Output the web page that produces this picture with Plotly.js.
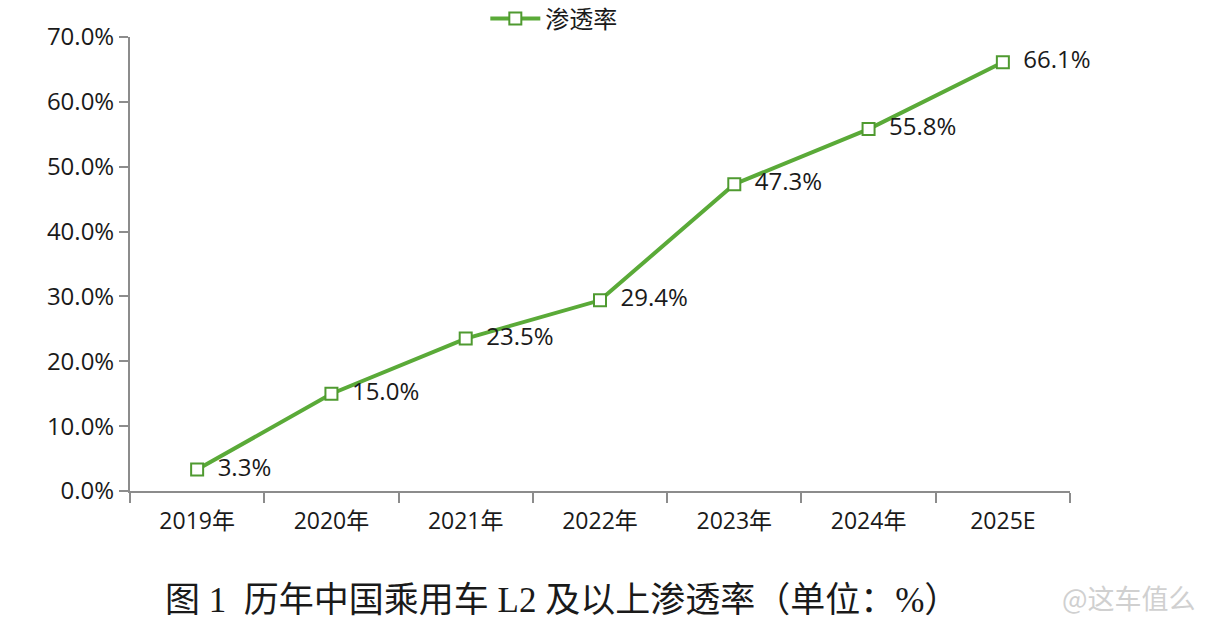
<!DOCTYPE html>
<html>
<head>
<meta charset="utf-8">
<script src="https://cdn.plot.ly/plotly-3.0.1.min.js"></script>
<style>html,body{margin:0;padding:0;background:#fff;}#chart{width:1208px;height:624px;}</style>
</head>
<body>
<div id="chart"></div>
<script>
const categories = ["2019年", "2020年", "2021年", "2022年", "2023年", "2024年", "2025E"];
const penetration = [3.3, 15.0, 23.5, 29.4, 47.3, 55.8, 66.1];
const seriesName = "渗透率";
const yTickValues = [0, 10, 20, 30, 40, 50, 60, 70];
const yTickLabels = ["0.0%", "10.0%", "20.0%", "30.0%", "40.0%", "50.0%", "60.0%", "70.0%"];
const caption = "图 1  历年中国乘用车 L2 及以上渗透率（单位：%）";
const watermark = "@这车值么";

const green = "#5aaa38";
const sans = "Open Sans, Noto Sans CJK SC, sans-serif";

const trace = {
  type: "scatter",
  mode: "lines+markers+text",
  name: seriesName,
  x: categories,
  y: penetration,
  text: penetration.map(v => "\u2002" + v.toFixed(1) + "%"),
  textposition: "middle right",
  textfont: {family: sans, size: 24, color: "#1a1a1a"},
  line: {color: green, width: 4},
  marker: {symbol: "square", size: 12, color: "#ffffff", line: {color: "#4f9a30", width: 2}},
  cliponaxis: false
};

const layout = {
  width: 1208, height: 624,
  paper_bgcolor: "#ffffff", plot_bgcolor: "#ffffff",
  margin: {l: 130, r: 138, t: 37, b: 133, autoexpand: false},
  showlegend: true,
  legend: {
    orientation: "h", x: 0.378, xanchor: "left", y: 1.04, yanchor: "middle",
    font: {family: sans, size: 24, color: "#1a1a1a"}, bgcolor: "rgba(0,0,0,0)",
    itemwidth: 50
  },
  xaxis: {
    type: "category",
    showline: true, linecolor: "#8c8c8c", linewidth: 2,
    ticks: "outside", tickson: "boundaries", ticklen: 10, tickcolor: "#8c8c8c", tickwidth: 2,
    showgrid: false, zeroline: false,
    ticklabelstandoff: 8,
    tickfont: {family: sans, size: 23, color: "#1a1a1a"},
    range: [-0.5, 6.5]
  },
  yaxis: {
    range: [0, 70],
    tickvals: yTickValues, ticktext: yTickLabels,
    showline: true, linecolor: "#8c8c8c", linewidth: 2,
    ticks: "outside", ticklen: 9, tickcolor: "#8c8c8c", tickwidth: 2,
    showgrid: false, zeroline: false,
    tickfont: {family: sans, size: 24, color: "#1a1a1a"}
  },
  annotations: [
    {
      text: caption, xref: "paper", yref: "paper", x: (163 - 130) / 940, xanchor: "left",
      y: -(600 - 491) / 454, yanchor: "middle", showarrow: false,
      font: {family: "Liberation Serif, Noto Sans CJK SC, serif", size: 35, color: "#1a1a1a"}
    },
    {
      text: watermark, xref: "paper", yref: "paper", x: (1198 - 130) / 940, xanchor: "right",
      y: -(597 - 491) / 454, yanchor: "middle", showarrow: false,
      font: {family: "Noto Sans CJK SC, sans-serif", size: 27, color: "#d0d0d0"}
    }
  ]
};

Plotly.newPlot("chart", [trace], layout, {displayModeBar: false, staticPlot: true});
</script>
</body>
</html>
